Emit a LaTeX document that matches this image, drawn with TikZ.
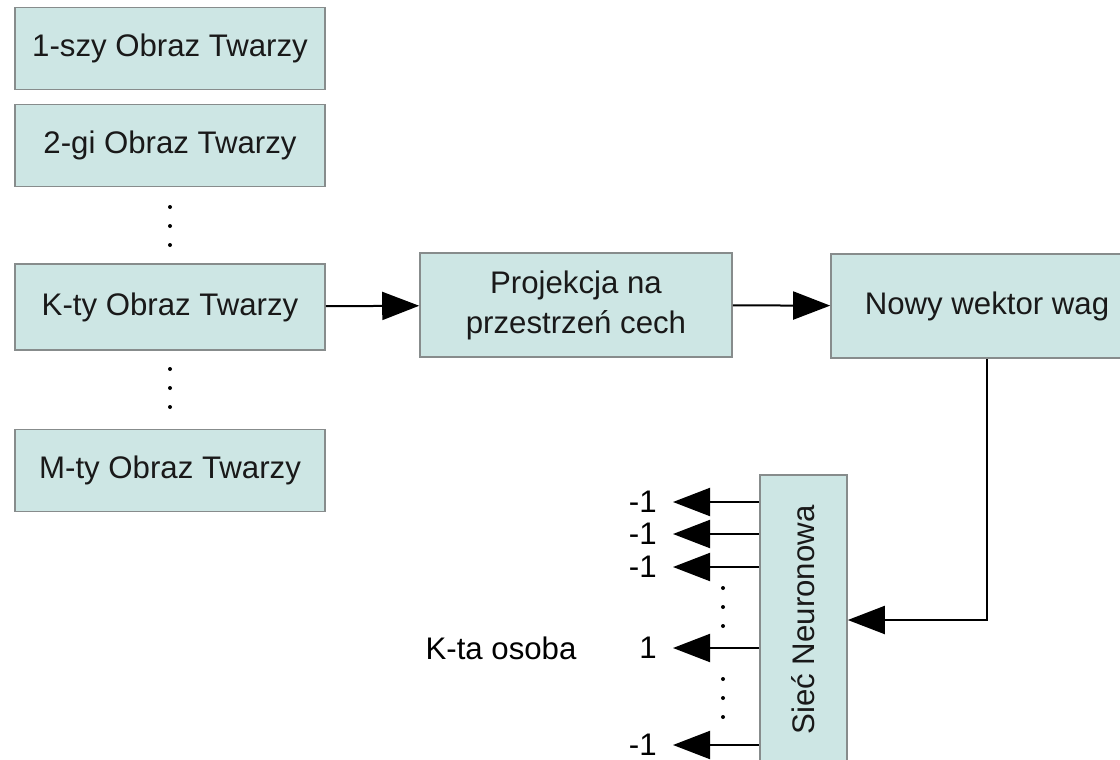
\documentclass[tikz,border=0pt]{standalone}
\usepackage{fontspec}
\setmainfont{Liberation Sans}
\usetikzlibrary{arrows.meta}
\definecolor{boxfill}{RGB}{205,230,228}
\definecolor{boxline}{RGB}{135,140,140}
\def\dotcolumn(#1,#2){\foreach \d in {0,1,2} \fill (#1, #2+19*\d) circle (1pt);}

\begin{document}
\begin{tikzpicture}[x=0.5pt, y=-0.5pt,
	box/.style={draw=boxline, line width=0.8pt, fill=boxfill, text=black!90, align=center,
		minimum width=155pt, minimum height=41pt, inner sep=2pt,
		font=\fontsize{15.6}{20}\selectfont},
	arr/.style={line width=1pt, -{Triangle[length=18.5pt, width=14pt]}},
	wyjscie/.style={anchor=east, inner xsep=8pt, inner ysep=0pt, font=\fontsize{15.6}{18}\selectfont}]
			%%%%% START %%%%%
			
			\path[use as bounding box, clip] (0, 0) rectangle (1120, 760);
			\fill[white] (0, 0) rectangle (1120, 760);
			
			\node[box] (obraz1) at (170, 48.5) {1-szy Obraz Twarzy};
			\node[box] (obraz2) at (170, 145.5) {2-gi Obraz Twarzy};
			\dotcolumn(170, 207)
			\node[box, minimum height=43pt] (obrazK) at (170, 307) {K-ty Obraz Twarzy};
			\dotcolumn(170, 369)
			\node[box] (obrazM) at (170, 470.5) {M-ty Obraz Twarzy};
			
			\node[box, minimum width=156pt, minimum height=52pt] (projekcja) at (576, 305) {Projekcja na\\przestrzeń cech};
			\node[box, minimum width=156pt, minimum height=52pt] (wektor) at (987, 306) {Nowy wektor wag};
			\node[box, rotate=90, minimum width=145pt, minimum height=43.5pt] (siec) at (803.5, 620) {Sieć Neuronowa};
			
			\draw[arr] (obrazK) -- (projekcja);
			\draw[arr] (projekcja) -- (wektor);
			\draw[arr] (wektor.south) |- (siec.south);
			
			\node[wyjscie] (wyj1) at (673, 502) {-1};
			\node[wyjscie] (wyj2) at (673, 534) {-1};
			\node[wyjscie] (wyj3) at (673, 567) {-1};
			\node[wyjscie] (wyjK) at (673, 648) {1};
			\node[wyjscie] (wyjM) at (673, 745) {-1};
			\node[font=\fontsize{15.6}{18}\selectfont] (osobaK) at (501, 648) {K-ta osoba};
			
			\foreach \w in {wyj1, wyj2, wyj3, wyjK, wyjM}
				\draw[arr] (siec.north |- \w) -- (\w);
			\dotcolumn(723, 588)
			\dotcolumn(723, 679)
			
			%%%%% END %%%%%
\end{tikzpicture}
\end{document}
